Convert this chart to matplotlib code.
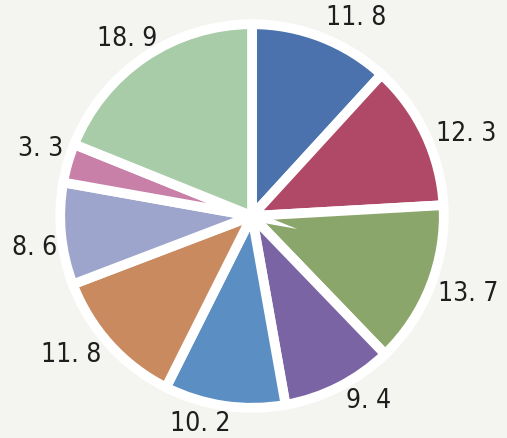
import matplotlib
matplotlib.use("Agg")
import matplotlib.pyplot as plt
import numpy as np

values = [11.8, 12.3, 13.7, 9.4, 10.2, 11.8, 8.6, 3.3, 18.9]
labels = ["11. 8", "12. 3", "13. 7", "9. 4", "10. 2", "11. 8", "8. 6", "3. 3", "18. 9"]
colors = ["#4b72ad", "#b04868", "#8ba66b", "#7a64a4", "#5b8ec2",
          "#c98a60", "#9ea5cc", "#c880a8", "#a8cca8"]
# small per-label tweaks (degrees, radius multiple) to mimic the hand-placed labels
label_shift = [-6.6, -4.5, 1.6, 5.2, -5.7, -4.6, 3.0, -1.6, 1.2]
label_dist = [1.19, 1.22, 1.22, 1.16, 1.14, 1.21, 1.17, 1.18, 1.15]

W, H = 507, 438
fig = plt.figure(figsize=(W / 100, H / 100), dpi=100, facecolor="#f4f4f1")
ax = fig.add_axes([0, 0, 1, 1])
ax.set_facecolor("#f4f4f1")

cx, cy, R = 252, 216, 188
wedges, _ = ax.pie(
    values, colors=colors, startangle=90, counterclock=False,
    radius=1.02, wedgeprops=dict(edgecolor="white", linewidth=7),
)
for w, lab, sh, d in zip(wedges, labels, label_shift, label_dist):
    mid = np.deg2rad((w.theta1 + w.theta2) / 2 + sh)
    ax.text(d * np.cos(mid), d * np.sin(mid), lab, ha="center", va="center",
            fontsize=19, color="#1e1e1e",
            family=["DejaVu Sans"], stretch="condensed")
ax.set_aspect("auto")
ax.set_xlim(-cx / R, (W - cx) / R)
ax.set_ylim(-(H - cy) / R, cy / R)
ax.axis("off")

fig.savefig("out.png", dpi=100, facecolor=fig.get_facecolor())
